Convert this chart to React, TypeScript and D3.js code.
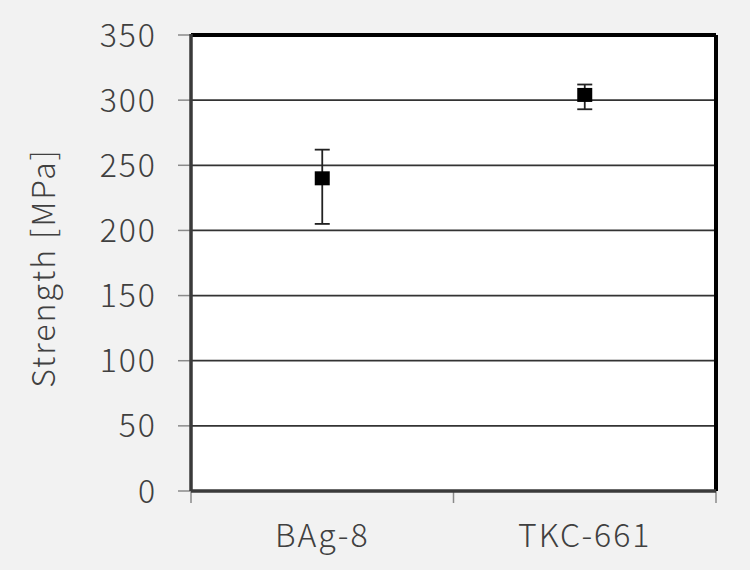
import { useEffect } from 'react'
import * as d3 from 'd3'

const categories = ['BAg-8', 'TKC-661']
const means = [240, 304]
const upperErr = [22, 8]
const lowerErr = [35, 11]
const yTicks = [0, 50, 100, 150, 200, 250, 300, 350]

const W = 750
const H = 570
const margin = { top: 35, right: 34, bottom: 79, left: 191 }
const font = '"Noto Sans CJK JP", "Open Sans", sans-serif'
const textStyle = { fontFamily: font, fontSize: 32, fontWeight: 300, letterSpacing: 2 }

export default function App() {
  useEffect(() => {
    document.body.style.margin = '0'
  }, [])

  const innerW = W - margin.left - margin.right
  const innerH = H - margin.top - margin.bottom

  const x = d3.scaleBand<string>().domain(categories).range([0, innerW])
  const y = d3.scaleLinear().domain([0, 350]).range([innerH, 0])
  const boundaries = [0, ...categories.map(c => (x(c) ?? 0) + x.bandwidth())]

  return (
    <svg width={W} height={H} style={{ display: 'block', background: '#f2f2f2' }}>
      <g transform={`translate(${margin.left},${margin.top})`}>
        <rect x={0} y={0} width={innerW} height={innerH} fill="#fff" />

        {/* gridlines */}
        {yTicks.filter(t => t > 0 && t < 350).map(t => (
          <line key={t} x1={0} x2={innerW} y1={y(t)} y2={y(t)} stroke="#333" strokeWidth={1.8} />
        ))}

        {/* y ticks and labels */}
        {yTicks.map(t => (
          <g key={t} transform={`translate(0,${y(t)})`}>
            <line x1={-13} x2={0} stroke="#8a8a8a" strokeWidth={1.5} />
            <text x={-34} dy="0.36em" textAnchor="end" fill="#404040" style={textStyle}>{t}</text>
          </g>
        ))}

        {/* x ticks */}
        {boundaries.map((b, i) => (
          <line key={i} x1={b} x2={b} y1={innerH} y2={innerH + 12} stroke="#8a8a8a" strokeWidth={1.5} />
        ))}

        {/* frame: top/right black, left/bottom dark gray */}
        <line x1={0} x2={innerW} y1={0} y2={0} stroke="#000" strokeWidth={4} />
        <line x1={innerW} x2={innerW} y1={0} y2={innerH} stroke="#000" strokeWidth={4} />
        <line x1={0} x2={0} y1={-1} y2={innerH} stroke="#3a3a3a" strokeWidth={3.5} />
        <line x1={0} x2={innerW} y1={innerH} y2={innerH} stroke="#3a3a3a" strokeWidth={3.5} />

        {/* category labels */}
        {categories.map(c => (
          <text key={c} x={(x(c) ?? 0) + x.bandwidth() / 2} y={innerH + 56} textAnchor="middle" fill="#404040"
            style={textStyle}>{c}</text>
        ))}

        {/* error bars and markers */}
        {categories.map((c, i) => {
          const cx = (x(c) ?? 0) + x.bandwidth() / 2
          const top = y(means[i] + upperErr[i])
          const bot = y(means[i] - lowerErr[i])
          return (
            <g key={c}>
              <line x1={cx} x2={cx} y1={top} y2={bot} stroke="#222" strokeWidth={1.8} />
              <line x1={cx - 7.5} x2={cx + 7.5} y1={top} y2={top} stroke="#222" strokeWidth={1.8} />
              <line x1={cx - 7.5} x2={cx + 7.5} y1={bot} y2={bot} stroke="#222" strokeWidth={1.8} />
              <rect x={cx - 7.5} y={y(means[i]) - 7} width={15} height={14} fill="#000" />
            </g>
          )
        })}

        {/* y axis title */}
        <text transform={`translate(${44 - margin.left},${innerH / 2 + 5}) rotate(-90)`} dy="0.35em"
          textAnchor="middle" fill="#404040" style={textStyle}>
          Strength [MPa]
        </text>
      </g>
    </svg>
  )
}
